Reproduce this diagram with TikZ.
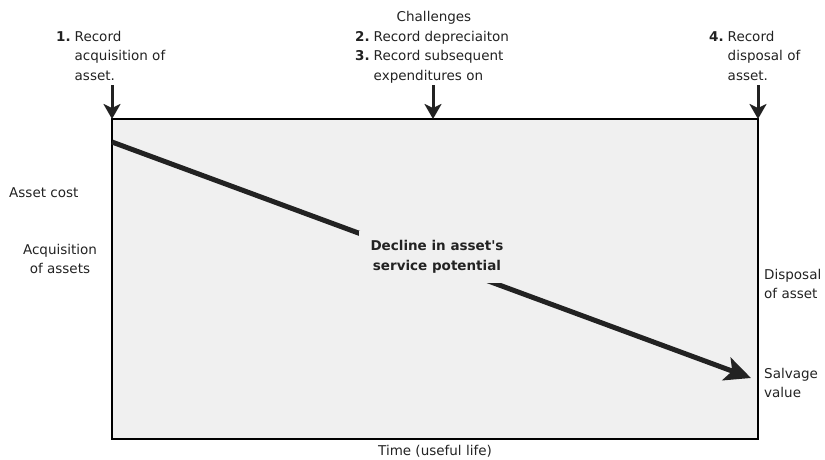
\documentclass[tikz,border=0pt]{standalone}
\usepackage{fontspec}
\setmainfont{DejaVu Sans}
\usetikzlibrary{arrows.meta}
\definecolor{bgray}{HTML}{F0F0F0}
\definecolor{ink}{HTML}{222222}
\begin{document}
\begin{tikzpicture}[x=1pt,y=-1pt,
  lbl/.style={font=\fontsize{13.5}{19.5}\selectfont, text=ink, inner sep=0pt, align=left},
  downarrow/.style={draw=ink, line width=3pt, -{Stealth[length=15pt,width=17pt,inset=4pt]}},
  declinearrow/.style={draw=ink, line width=5pt, -{Stealth[length=26pt,width=24pt,inset=6pt]}}]
\useasboundingbox (0,0) rectangle (825,459);
% main box
\node[draw=black, line width=2pt, fill=bgray, minimum width=646pt, minimum height=320pt, inner sep=0pt, outer sep=0pt, anchor=north west] (box) at (112,119) {};
% diagonal
\coordinate (dstart) at (112,142);
\coordinate (dend) at (751,378);
\draw[declinearrow] (dstart) -- (dend);
\node[lbl, fill=bgray, inner xsep=12pt, inner ysep=9pt, align=center, font=\fontsize{13.5}{20}\selectfont\bfseries] (decl) at (437,257) {Decline in asset\textquotesingle s\\service potential};
% top labels
\newcommand{\steplist}[1]{\begin{tabular}[t]{@{}l@{\hspace{4pt}}l@{}}#1\end{tabular}}
\node[lbl, anchor=base west] (l1) at (56,41) {\steplist{\textbf{1.} & Record\\ & acquisition of\\ & asset.}};
\node[lbl, anchor=base west] (l23) at (355,41) {\steplist{\textbf{2.} & Record depreciaiton\\ \textbf{3.} & Record subsequent\\ & expenditures on}};
\node[lbl, anchor=base] (ch) at (434,21) {Challenges};
\node[lbl, anchor=base west] (l4) at (709,41) {\steplist{\textbf{4.} & Record\\ & disposal of\\ & asset.}};
% arrow anchors
\coordinate (a1s) at ([yshift=34pt]box.north west);
\coordinate (a2s) at ([yshift=34pt]box.north west -| 433,0);
\coordinate (a3s) at ([yshift=34pt]box.north east);
\draw[downarrow] (a1s) -- (box.north west);
\draw[downarrow] (a2s) -- (box.north west -| a2s);
\draw[downarrow] (a3s) -- (box.north east);
% side labels
\node[lbl, anchor=base west] (cost) at (9,197) {Asset cost};
\node[lbl, anchor=north, align=center] (acq) at (60,244) {Acquisition\\of assets};
\node[lbl, anchor=north west] (disp) at (764,269) {Disposal\\of asset};
\node[lbl, anchor=north west] (salv) at (764,368) {Salvage\\value};
\node[lbl, anchor=north] (time) at (435,445) {Time (useful life)};
\end{tikzpicture}
\end{document}
